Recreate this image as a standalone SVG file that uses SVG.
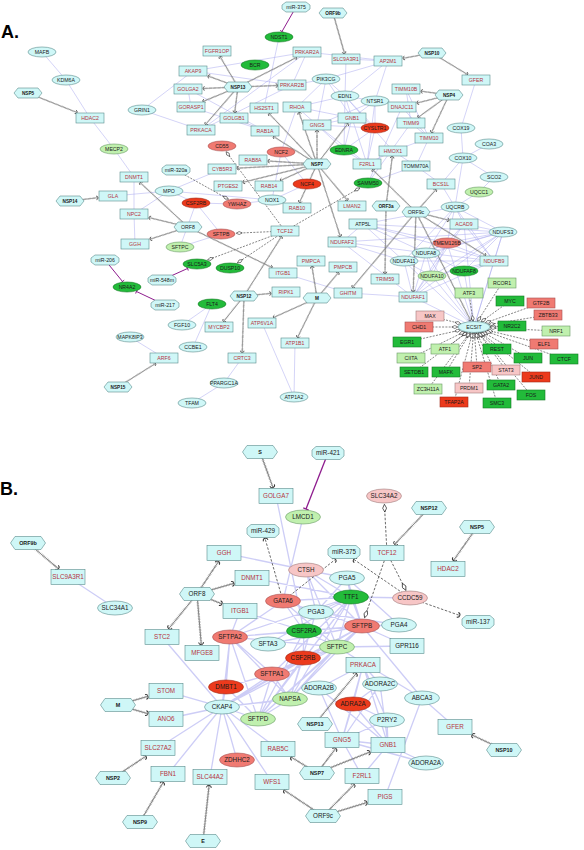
<svg xmlns="http://www.w3.org/2000/svg" xmlns:xlink="http://www.w3.org/1999/xlink" width="584" height="850" viewBox="0 0 584 850">
<style>
.c{fill:#cff7f7;stroke:#5a8c8c;stroke-width:.6}
.g{fill:#22bb3a;stroke:#177a27;stroke-width:.6}
.lg{fill:#c0f0ae;stroke:#6a9a66;stroke-width:.6}
.rd{fill:#ec3a1c;stroke:#a02a18;stroke-width:.6}
.sa{fill:#f07a72;stroke:#a85252;stroke-width:.6}
.pk{fill:#f7c6c6;stroke:#a07a7a;stroke-width:.6}
text{font-family:"Liberation Sans",Arial,sans-serif;text-anchor:middle;fill:#1a1a1a}
.a{font-size:5.2px}
.ah{font-size:4.7px;font-weight:bold}
.b{font-size:6.3px}
.bh{font-size:5.4px;font-weight:bold}
.rt{fill:#b5343e}
.lbl{font-size:18px;font-weight:bold;text-anchor:start;fill:#000}
.ppa{stroke:#a4a4ee;stroke-opacity:.6;stroke-width:.8;fill:none}
.ppb{stroke:#a4a4ee;stroke-opacity:.55;stroke-width:1.3;fill:none}
.vla{stroke:#4a4a4a;stroke-width:.5;fill:none;marker-end:url(#hk)}
.vta{stroke:#8a8a8a;stroke-width:1.8;stroke-dasharray:.4 .9;fill:none}
.vlb{stroke:#4a4a4a;stroke-width:.7;fill:none;marker-end:url(#hkb)}
.vtb{stroke:#8a8a8a;stroke-width:2.4;stroke-dasharray:.5 1.1;fill:none}
.da{stroke:#333;stroke-width:.6;stroke-dasharray:2 1.3;fill:none;marker-end:url(#dm)}
.db{stroke:#444;stroke-width:.8;stroke-dasharray:2.5 1.6;fill:none}
.dbd{marker-end:url(#dmb)}
.dbh{marker-end:url(#hkb)}
.mi{stroke:#8e1c8e;stroke-width:1;fill:none;marker-end:url(#tee)}
.mib{stroke:#8e1c8e;stroke-width:1.3;fill:none;marker-end:url(#teeb)}
</style>
<defs>
<marker id="hk" viewBox="-3 -3 6 6" refX="1.3" refY="0" markerWidth="6" markerHeight="6" markerUnits="userSpaceOnUse" orient="auto"><path d="M-0.5,-1.8A1.8,1.8 0 0 1 -0.5,1.8" fill="none" stroke="#333" stroke-width=".7"/></marker>
<marker id="hkb" viewBox="-3 -3 6 6" refX="1.3" refY="0" markerWidth="8" markerHeight="8" markerUnits="userSpaceOnUse" orient="auto"><path d="M-0.5,-1.8A1.8,1.8 0 0 1 -0.5,1.8" fill="none" stroke="#333" stroke-width=".7"/></marker>
<marker id="dm" viewBox="-4 -2 8 4" refX="3.2" refY="0" markerWidth="8" markerHeight="4" markerUnits="userSpaceOnUse" orient="auto"><path d="M-3,0L0,-1.5L3,0L0,1.5Z" fill="#fff" stroke="#111" stroke-width=".5"/></marker>
<marker id="dmb" viewBox="-4 -2 8 4" refX="3.2" refY="0" markerWidth="10.4" markerHeight="5.2" markerUnits="userSpaceOnUse" orient="auto"><path d="M-3,0L0,-1.5L3,0L0,1.5Z" fill="#fff" stroke="#111" stroke-width=".5"/></marker>
<marker id="tee" viewBox="-3 -3 6 6" refX="0" refY="0" markerWidth="6" markerHeight="6" markerUnits="userSpaceOnUse" orient="auto"><path d="M0,-2.2V2.2" stroke="#8e1c8e" stroke-width=".9"/></marker>
<marker id="teeb" viewBox="-3 -3 6 6" refX="0" refY="0" markerWidth="8" markerHeight="8" markerUnits="userSpaceOnUse" orient="auto"><path d="M0,-2.2V2.2" stroke="#8e1c8e" stroke-width=".9"/></marker>
<rect id="ra" x="-14" y="-5" width="28" height="10"/>
<ellipse id="ea" rx="14" ry="5"/>
<polygon id="ha" points="-14,0 -10,-5 10,-5 14,0 10,5 -10,5"/>
<polygon id="oa" points="-14,-2 -10,-5 10,-5 14,-2 14,2 10,5 -10,5 -14,2"/>
<rect id="rb" x="-17" y="-7.5" width="34" height="15"/>
<ellipse id="eb" rx="17.5" ry="7"/>
<polygon id="hb" points="-17.5,0 -13,-6.5 13,-6.5 17.5,0 13,6.5 -13,6.5"/>
<polygon id="ob" points="-16,-3 -12,-6.5 12,-6.5 16,-3 16,3 12,6.5 -12,6.5 -16,3"/>
</defs>
<rect width="584" height="850" fill="#fff"/>
<text class="lbl" x="1" y="38">A.</text>
<text class="lbl" x="0" y="495">B.</text>

<g id="connectors">
<path class="ppa" d="M42 52L66 80M66 80L90 118M90 118L114 149M114 149L134 177M142 110L193 71M142 110L201 130M113 196L169 191M169 191L134 214M134 214L135 244M134 177L134 214M169 191L222 169M169 191L272 200M169 191L196 203M196 203L221 234M196 203L180 247M180 247L221 234M196 203L237 204M237 204L272 200M272 200L307 184M272 200L281 152M281 152L307 184M188 89L191 107M188 89L265 131M191 107L265 131M234 118L265 131M307 52L292 85M307 52L201 130M292 85L201 130M193 71L307 52M193 71L292 85M307 52L388 61M346 59L345 96M346 59L388 61M279 37L264 108M326 79L352 118M326 79L317 125M326 79L297 107M326 79L345 96M326 79L292 85M326 79L388 61M345 96L375 101M345 96L344 150M345 96L352 118M345 96L297 107M345 96L393 151M345 96L388 61M345 96L375 128M375 101L352 118M375 101L317 125M375 101L388 61M375 101L375 128M375 101L367 164M352 118L317 125M352 118L375 128M352 118L344 150M352 118L367 164M317 125L375 128M317 125L344 150M317 125L367 164M297 107L317 125M297 107L352 118M375 128L344 150M344 150L367 164M375 128L367 164M297 107L281 152M393 151L429 138M393 151L416 166M393 151L367 164M411 123L429 138M406 89L411 123M406 89L429 138M402 107L429 138M429 138L416 166M416 166L368 183M411 123L368 183M402 107L368 183M476 80L461 128M461 128L463 158M463 158L489 144M463 158L494 177M463 158L455 207M463 158L441 184M494 177L479 192M455 207L479 192M455 207L441 184M455 207L503 232M455 207L464 224M455 207L426 253M455 207L404 261M455 207L363 224M455 207L494 261M455 207L447 243M441 184L416 166M363 224L426 253M363 224L404 261M363 224L503 232M363 224L342 242M363 224L494 261M363 224L447 243M342 242L404 261M342 242L426 253M342 242L413 297M342 242L503 232M503 232L426 253M503 232L404 261M503 232L494 261M503 232L447 243M503 232L464 224M503 232L474 327M503 232L413 297M503 232L432 276M503 232L464 271M426 253L404 261M426 253L494 261M426 253L447 243M426 253L474 327M426 253L413 297M426 253L432 276M426 253L464 271M404 261L494 261M404 261L413 297M404 261L474 327M404 261L432 276M404 261L447 243M494 261L447 243M494 261L474 327M494 261L464 224M494 261L432 276M494 261L464 271M494 261L413 297M447 243L474 327M447 243L464 224M447 243L413 297M447 243L432 276M464 224L474 327M464 224L413 297M474 327L413 297M474 327L432 276M474 327L464 271M413 297L432 276M348 293L413 297M283 273L348 293M182 325L212 304M212 304L193 347M242 358L224 383M224 383L192 403M262 323L294 397M295 343L294 397M130 337L164 358"/>
<path class="ppb" d="M276 496L304 631M303 517L283 601M224 553L306 570M68 577L115 608M162 637L222 707M252 578L351 597M240 611L304 631M240 611L230 637M230 637L351 597M230 637L362 626M230 637L337 647M230 637L272 674M230 637L304 631M230 637L258 719M230 637L222 707M230 637L226 687M230 637L283 601M230 637L290 699M272 674L351 597M272 674L362 626M272 674L337 647M272 674L258 719M272 674L222 707M272 674L226 687M272 674L303 658M272 674L290 699M362 626L351 597M362 626L337 647M362 626L258 719M362 626L304 631M362 626L303 658M362 626L290 699M362 626L422 698M362 626L407 646M362 626L399 625M362 626L316 612M362 626L306 570M362 626L222 707M362 626L283 601M362 626L268 644M362 626L347 578M337 647L351 597M337 647L258 719M337 647L304 631M337 647L303 658M337 647L290 699M337 647L422 698M337 647L222 707M337 647L283 601M337 647L407 646M337 647L306 570M351 597L283 601M351 597L290 699M351 597L258 719M351 597L268 644M351 597L347 578M351 597L410 598M351 597L306 570M351 597L316 612M304 631L303 658M304 631L258 719M304 631L283 601M303 658L258 719M303 658L222 707M303 658L290 699M258 719L222 707M258 719L290 699M258 719L226 687M222 707L226 687M222 707L158 748M222 707L168 774M222 707L210 777M222 707L237 760M222 707L278 749M222 707L272 782M222 707L166 719M222 707L166 691M222 707L290 699M316 612L347 578M316 612L399 625M316 612L306 570M316 612L283 601M316 612L290 699M399 625L347 578M347 578L306 570M422 698L385 797M422 698L455 727M363 665L353 704M363 665L319 688M363 665L380 684M363 665L388 745M363 665L342 740M363 665L387 720M353 704L388 745M353 704L342 740M353 704L387 720M353 704L380 684M319 688L388 745M319 688L342 740M380 684L388 745M380 684L342 740M387 720L388 745M387 720L342 740M388 745L342 740M388 745L362 776M342 740L362 776M388 745L426 763M342 740L426 763"/>
<path class="da" d="M285 231L236 233.2"/><path class="da" d="M285 231L360 187.8"/><path class="da" d="M285 231L207.5 260"/><path class="da" d="M285 231L237.3 263"/><path class="da" d="M285 231L226 151.5"/><path class="da" d="M176 170L228.5 199.3"/>
<path class="da" d="M502 283L477.4 321.6"/><path class="da" d="M469 293L473.2 321.5"/><path class="da" d="M510 301L480.9 322"/><path class="da" d="M541 303L485.1 323"/><path class="da" d="M548 315L488.5 324.6"/><path class="da" d="M430 316L461 323.8"/><path class="da" d="M419 327L458 327"/><path class="da" d="M512 326L490 326.6"/><path class="da" d="M556 331L489.8 327.8"/><path class="da" d="M407 342L460.6 330"/><path class="da" d="M544 344L487 330.2"/><path class="da" d="M445 349L467.4 332"/><path class="da" d="M497 349L479.4 332.2"/><path class="da" d="M411 358L464.9 331.5"/><path class="da" d="M528 358L482.2 331.7"/><path class="da" d="M564 359L485.1 331"/><path class="da" d="M477 367L474.4 332.5"/><path class="da" d="M506 370L478 332.3"/><path class="da" d="M414 372L467.3 332"/><path class="da" d="M446 372L470.6 332.4"/><path class="da" d="M536 377L480.3 332"/><path class="da" d="M501 385L476.5 332.4"/><path class="da" d="M469 388L473.5 332.5"/><path class="da" d="M428 389L470 332.3"/><path class="da" d="M531 395L478.4 332.3"/><path class="da" d="M454 402L472.5 332.5"/><path class="da" d="M497 403L475.7 332.5"/>
<path class="db dbd" d="M387 553L384.4 504"/><path class="db dbd" d="M387 553L406 590.5"/><path class="db dbd" d="M387 553L364.5 618"/><path class="db dbh" d="M283 601L335.5 559.3"/><path class="db dbh" d="M410 598L353.7 559.3"/><path class="db dbh" d="M283 601L265 538.3"/><path class="db dbh" d="M410 598L459.8 615.5"/>
<path class="mi" d="M296 7L282 31.5"/><path class="mi" d="M105 260L122.5 281.5"/><path class="mi" d="M165 305L136.5 291.5"/><path class="mi" d="M162 280L187.5 268.5"/>
<path class="mib" d="M328 453L306 509"/>
<g class="vla"><g id="vA">
<path d="M28 93L77 112.5"/>
<path d="M238 87L208 76"/><path d="M238 87L203 88.5"/><path d="M238 87L203 101.5"/><path d="M238 87L205.5 124.5"/><path d="M238 87L234.7 112.5"/><path d="M238 87L220 56.5"/><path d="M238 87L296.5 57.5"/><path d="M238 87L277.5 85.5"/>
<path d="M333 13L344.5 53.5"/>
<path d="M432 53L403 58.3"/><path d="M432 53L467.5 74.5"/>
<path d="M449 95L421 91.2"/><path d="M449 95L417 103"/><path d="M449 95L418 117.5"/><path d="M449 95L431.5 132.5"/>
<path d="M317 164L273.5 136.5"/><path d="M317 164L269 113.5"/><path d="M317 164L299 112.5"/><path d="M317 164L317 130.5"/><path d="M317 164L348 123.5"/><path d="M317 164L268 161"/><path d="M317 164L237 168.2"/><path d="M317 164L243 182.3"/><path d="M317 164L280.5 180.5"/><path d="M317 164L299.5 202.5"/><path d="M317 164L347.5 200.5"/><path d="M317 164L340.3 236.5"/>
<path d="M188 227L140 182.5"/><path d="M188 227L149 217.6"/><path d="M188 227L150 239.2"/><path d="M188 227L272 267.5"/>
<path d="M70 201L98 197.7"/>
<path d="M244 296L271 293.4"/><path d="M244 296L223.5 321.5"/><path d="M244 296L242.2 352.5"/><path d="M244 296L281.5 236.5"/>
<path d="M317 298L312 266.5"/><path d="M317 298L338.5 272.5"/><path d="M317 298L273.5 317.5"/><path d="M317 298L297.5 337.5"/>
<path d="M416 212L436 189.5"/><path d="M416 212L449 220.3"/><path d="M416 212L485.5 255.5"/><path d="M416 212L413.2 291.5"/><path d="M416 212L372.5 169.5"/><path d="M416 212L352.5 287.5"/><path d="M416 212L470.7 320.5"/>
<path d="M386 206L392.3 156.5"/><path d="M386 206L385 273.5"/>
<path d="M118 387L155.5 363.5"/>
</g></g>
<use href="#vA" xlink:href="#vA" class="vta"/>
<g class="vlb"><g id="vB">
<path d="M260 452L273 487.5"/>
<path d="M429 508L394.5 544.5"/>
<path d="M477 527L453.5 560.5"/>
<path d="M28 543L58.5 568.8"/>
<path d="M197 594L218.5 561.5"/><path d="M197 594L234 583.3"/><path d="M197 594L222 603.9"/><path d="M197 594L168.7 628.7"/><path d="M197 594L201.3 644.7"/>
<path d="M118 705L148 696.3"/><path d="M118 705L148 713.7"/>
<path d="M315 724L356.3 673.3"/>
<path d="M504 750L472 735"/>
<path d="M317 773L291 757"/><path d="M317 773L335.8 748.3"/><path d="M317 773L370 752"/>
<path d="M113 778L146 756.2"/>
<path d="M140 822L163.2 782.3"/>
<path d="M203 841L209.1 785.3"/>
<path d="M323 816L284 790"/><path d="M323 816L354.3 784.3"/><path d="M323 816L367 802.5"/>
</g></g>
<use href="#vB" xlink:href="#vB" class="vtb"/>
</g>

<g id="nodesA">
<g id="a-MAFB"><use href="#ea" x="42" y="52" class="c"/><text class="a" x="42" y="53.8">MAFB</text></g>
<g id="a-KDM6A"><use href="#ea" x="66" y="80" class="c"/><text class="a" x="66" y="81.8">KDM6A</text></g>
<g id="a-NSP5"><use href="#ha" x="28" y="93" class="c"/><text class="ah" x="28" y="94.7">NSP5</text></g>
<g id="a-HDAC2"><use href="#ra" x="90" y="118" class="c"/><text class="a rt" x="90" y="119.8">HDAC2</text></g>
<g id="a-GRIN1"><use href="#ea" x="142" y="110" class="c"/><text class="a" x="142" y="111.8">GRIN1</text></g>
<g id="a-AKAP9"><use href="#ra" x="193" y="71" class="c"/><text class="a rt" x="193" y="72.8">AKAP9</text></g>
<g id="a-GOLGA2"><use href="#ra" x="188" y="89" class="c"/><text class="a rt" x="188" y="90.8">GOLGA2</text></g>
<g id="a-GORASP1"><use href="#ra" x="191" y="107" class="c"/><text class="a rt" x="191" y="108.8">GORASP1</text></g>
<g id="a-PRKACA"><use href="#ra" x="201" y="130" class="c"/><text class="a rt" x="201" y="131.8">PRKACA</text></g>
<g id="a-miR-375"><use href="#oa" x="296" y="7" class="c"/><text class="a" x="296" y="8.8">miR-375</text></g>
<g id="a-ORF9b"><use href="#ha" x="333" y="13" class="c"/><text class="ah" x="333" y="14.7">ORF9b</text></g>
<g id="a-NDST1"><use href="#ea" x="279" y="37" class="g"/><text class="a" x="279" y="38.8">NDST1</text></g>
<g id="a-FGFR1OP"><use href="#ra" x="217" y="51" class="c"/><text class="a rt" x="217" y="52.8">FGFR1OP</text></g>
<g id="a-PRKAR2A"><use href="#ra" x="307" y="52" class="c"/><text class="a rt" x="307" y="53.8">PRKAR2A</text></g>
<g id="a-SLC9A3R1"><use href="#ra" x="346" y="59" class="c"/><text class="a rt" x="346" y="60.8">SLC9A3R1</text></g>
<g id="a-AP2M1"><use href="#ra" x="388" y="61" class="c"/><text class="a rt" x="388" y="62.8">AP2M1</text></g>
<g id="a-BCR"><use href="#ea" x="255" y="65" class="g"/><text class="a" x="255" y="66.8">BCR</text></g>
<g id="a-NSP13"><use href="#ha" x="238" y="87" class="c"/><text class="ah" x="238" y="88.7">NSP13</text></g>
<g id="a-PRKAR2B"><use href="#ra" x="292" y="85" class="c"/><text class="a rt" x="292" y="86.8">PRKAR2B</text></g>
<g id="a-PIK3CG"><use href="#ea" x="326" y="79" class="c"/><text class="a" x="326" y="80.8">PIK3CG</text></g>
<g id="a-EDN1"><use href="#ea" x="345" y="96" class="c"/><text class="a" x="345" y="97.8">EDN1</text></g>
<g id="a-NTSR1"><use href="#ea" x="375" y="101" class="c"/><text class="a" x="375" y="102.8">NTSR1</text></g>
<g id="a-HS2ST1"><use href="#ra" x="264" y="108" class="c"/><text class="a rt" x="264" y="109.8">HS2ST1</text></g>
<g id="a-RHOA"><use href="#ra" x="297" y="107" class="c"/><text class="a rt" x="297" y="108.8">RHOA</text></g>
<g id="a-GOLGB1"><use href="#ra" x="234" y="118" class="c"/><text class="a rt" x="234" y="119.8">GOLGB1</text></g>
<g id="a-GNG5"><use href="#ra" x="317" y="125" class="c"/><text class="a rt" x="317" y="126.8">GNG5</text></g>
<g id="a-GNB1"><use href="#ra" x="352" y="118" class="c"/><text class="a rt" x="352" y="119.8">GNB1</text></g>
<g id="a-CYSLTR1"><use href="#ea" x="375" y="128" class="rd"/><text class="a" x="375" y="129.8">CYSLTR1</text></g>
<g id="a-RAB1A"><use href="#ra" x="265" y="131" class="c"/><text class="a rt" x="265" y="132.8">RAB1A</text></g>
<g id="a-NSP10"><use href="#ha" x="432" y="53" class="c"/><text class="ah" x="432" y="54.7">NSP10</text></g>
<g id="a-GFER"><use href="#ra" x="476" y="80" class="c"/><text class="a rt" x="476" y="81.8">GFER</text></g>
<g id="a-TIMM10B"><use href="#ra" x="406" y="89" class="c"/><text class="a rt" x="406" y="90.8">TIMM10B</text></g>
<g id="a-NSP4"><use href="#ha" x="449" y="95" class="c"/><text class="ah" x="449" y="96.7">NSP4</text></g>
<g id="a-DNAJC11"><use href="#ra" x="402" y="107" class="c"/><text class="a rt" x="402" y="108.8">DNAJC11</text></g>
<g id="a-TIMM9"><use href="#ra" x="411" y="123" class="c"/><text class="a rt" x="411" y="124.8">TIMM9</text></g>
<g id="a-COX19"><use href="#ea" x="461" y="128" class="c"/><text class="a" x="461" y="129.8">COX19</text></g>
<g id="a-TIMM10"><use href="#ra" x="429" y="138" class="c"/><text class="a rt" x="429" y="139.8">TIMM10</text></g>
<g id="a-MECP2"><use href="#ea" x="114" y="149" class="lg"/><text class="a" x="114" y="150.8">MECP2</text></g>
<g id="a-miR-320a"><use href="#oa" x="176" y="170" class="c"/><text class="a" x="176" y="171.8">miR-320a</text></g>
<g id="a-DNMT1"><use href="#ra" x="134" y="177" class="c"/><text class="a rt" x="134" y="178.8">DNMT1</text></g>
<g id="a-MPO"><use href="#ea" x="169" y="191" class="c"/><text class="a" x="169" y="192.8">MPO</text></g>
<g id="a-GLA"><use href="#ra" x="113" y="196" class="c"/><text class="a rt" x="113" y="197.8">GLA</text></g>
<g id="a-NSP14"><use href="#ha" x="70" y="201" class="c"/><text class="ah" x="70" y="202.7">NSP14</text></g>
<g id="a-CSF2RB"><use href="#ea" x="196" y="203" class="rd"/><text class="a" x="196" y="204.8">CSF2RB</text></g>
<g id="a-NPC2"><use href="#ra" x="134" y="214" class="c"/><text class="a rt" x="134" y="215.8">NPC2</text></g>
<g id="a-ORF8"><use href="#ha" x="188" y="227" class="c"/><text class="a" x="188" y="228.8">ORF8</text></g>
<g id="a-GGH"><use href="#ra" x="135" y="244" class="c"/><text class="a rt" x="135" y="245.8">GGH</text></g>
<g id="a-SFTPC"><use href="#ea" x="180" y="247" class="lg"/><text class="a" x="180" y="248.8">SFTPC</text></g>
<g id="a-miR-206"><use href="#oa" x="105" y="260" class="c"/><text class="a" x="105" y="261.8">miR-206</text></g>
<g id="a-SLC5A3"><use href="#ea" x="197" y="264" class="g"/><text class="a" x="197" y="265.8">SLC5A3</text></g>
<g id="a-CD55"><use href="#ea" x="222" y="146" class="sa"/><text class="a" x="222" y="147.8">CD55</text></g>
<g id="a-NCF2"><use href="#ea" x="281" y="152" class="sa"/><text class="a" x="281" y="153.8">NCF2</text></g>
<g id="a-EDNRA"><use href="#ea" x="344" y="150" class="g"/><text class="a" x="344" y="151.8">EDNRA</text></g>
<g id="a-RAB8A"><use href="#ra" x="253" y="160" class="c"/><text class="a rt" x="253" y="161.8">RAB8A</text></g>
<g id="a-NSP7"><use href="#ha" x="317" y="164" class="c"/><text class="ah" x="317" y="165.7">NSP7</text></g>
<g id="a-F2RL1"><use href="#ra" x="367" y="164" class="c"/><text class="a rt" x="367" y="165.8">F2RL1</text></g>
<g id="a-HMOX1"><use href="#ra" x="393" y="151" class="c"/><text class="a rt" x="393" y="152.8">HMOX1</text></g>
<g id="a-CYB5R3"><use href="#ra" x="222" y="169" class="c"/><text class="a rt" x="222" y="170.8">CYB5R3</text></g>
<g id="a-PTGES2"><use href="#ra" x="228" y="186" class="c"/><text class="a rt" x="228" y="187.8">PTGES2</text></g>
<g id="a-RAB14"><use href="#ra" x="269" y="186" class="c"/><text class="a rt" x="269" y="187.8">RAB14</text></g>
<g id="a-NCF4"><use href="#ea" x="307" y="184" class="rd"/><text class="a" x="307" y="185.8">NCF4</text></g>
<g id="a-SAMM50"><use href="#ea" x="368" y="183" class="g"/><text class="a" x="368" y="184.8">SAMM50</text></g>
<g id="a-YWHAZ"><use href="#ea" x="237" y="204" class="sa"/><text class="a" x="237" y="205.8">YWHAZ</text></g>
<g id="a-NOX1"><use href="#ea" x="272" y="200" class="c"/><text class="a" x="272" y="201.8">NOX1</text></g>
<g id="a-RAB10"><use href="#ra" x="297" y="208" class="c"/><text class="a rt" x="297" y="209.8">RAB10</text></g>
<g id="a-LMAN2"><use href="#ra" x="352" y="206" class="c"/><text class="a rt" x="352" y="207.8">LMAN2</text></g>
<g id="a-ORF3a"><use href="#ha" x="386" y="206" class="c"/><text class="ah" x="386" y="207.7">ORF3a</text></g>
<g id="a-TCF12"><use href="#ra" x="285" y="231" class="c"/><text class="a rt" x="285" y="232.8">TCF12</text></g>
<g id="a-SFTPB"><use href="#ea" x="221" y="234" class="sa"/><text class="a" x="221" y="235.8">SFTPB</text></g>
<g id="a-ATP5L"><use href="#ra" x="363" y="224" class="c"/><text class="a" x="363" y="225.8">ATP5L</text></g>
<g id="a-NDUFAF2"><use href="#ra" x="342" y="242" class="c"/><text class="a rt" x="342" y="243.8">NDUFAF2</text></g>
<g id="a-PMPCA"><use href="#ra" x="311" y="261" class="c"/><text class="a rt" x="311" y="262.8">PMPCA</text></g>
<g id="a-PMPCB"><use href="#ra" x="343" y="267" class="c"/><text class="a rt" x="343" y="268.8">PMPCB</text></g>
<g id="a-DUSP10"><use href="#ea" x="230" y="268" class="g"/><text class="a" x="230" y="269.8">DUSP10</text></g>
<g id="a-COA3"><use href="#ea" x="489" y="144" class="c"/><text class="a" x="489" y="145.8">COA3</text></g>
<g id="a-COX10"><use href="#ea" x="463" y="158" class="c"/><text class="a" x="463" y="159.8">COX10</text></g>
<g id="a-TOMM70A"><use href="#ra" x="416" y="166" class="c"/><text class="a" x="416" y="167.8">TOMM70A</text></g>
<g id="a-SCO2"><use href="#ea" x="494" y="177" class="c"/><text class="a" x="494" y="178.8">SCO2</text></g>
<g id="a-BCS1L"><use href="#ra" x="441" y="184" class="c"/><text class="a rt" x="441" y="185.8">BCS1L</text></g>
<g id="a-UQCC1"><use href="#ea" x="479" y="192" class="lg"/><text class="a" x="479" y="193.8">UQCC1</text></g>
<g id="a-UQCRB"><use href="#ea" x="455" y="207" class="c"/><text class="a" x="455" y="208.8">UQCRB</text></g>
<g id="a-ORF9c"><use href="#ha" x="416" y="212" class="c"/><text class="a" x="416" y="213.8">ORF9c</text></g>
<g id="a-ACAD9"><use href="#ra" x="464" y="224" class="c"/><text class="a rt" x="464" y="225.8">ACAD9</text></g>
<g id="a-NDUFS3"><use href="#ea" x="503" y="232" class="c"/><text class="a" x="503" y="233.8">NDUFS3</text></g>
<g id="a-TMEM126B"><use href="#ea" x="447" y="243" class="sa"/><text class="a" x="447" y="244.8">TMEM126B</text></g>
<g id="a-NDUFA8"><use href="#ea" x="426" y="253" class="c"/><text class="a" x="426" y="254.8">NDUFA8</text></g>
<g id="a-NDUFA11"><use href="#ea" x="404" y="261" class="c"/><text class="a" x="404" y="262.8">NDUFA11</text></g>
<g id="a-NDUFB9"><use href="#ra" x="494" y="261" class="c"/><text class="a rt" x="494" y="262.8">NDUFB9</text></g>
<g id="a-NDUFAF8"><use href="#ea" x="464" y="271" class="g"/><text class="a" x="464" y="272.8">NDUFAF8</text></g>
<g id="a-NR4A2"><use href="#ea" x="127" y="287" class="g"/><text class="a" x="127" y="288.8">NR4A2</text></g>
<g id="a-miR-548m"><use href="#oa" x="162" y="280" class="c"/><text class="a" x="162" y="281.8">miR-548m</text></g>
<g id="a-miR-217"><use href="#oa" x="165" y="305" class="c"/><text class="a" x="165" y="306.8">miR-217</text></g>
<g id="a-FGF10"><use href="#ea" x="182" y="325" class="c"/><text class="a" x="182" y="326.8">FGF10</text></g>
<g id="a-MAPK8IP3"><use href="#ea" x="130" y="337" class="c"/><text class="a" x="130" y="338.8">MAPK8IP3</text></g>
<g id="a-ARF6"><use href="#ra" x="164" y="358" class="c"/><text class="a rt" x="164" y="359.8">ARF6</text></g>
<g id="a-NSP15"><use href="#ha" x="118" y="387" class="c"/><text class="ah" x="118" y="388.7">NSP15</text></g>
<g id="a-CCBE1"><use href="#ea" x="193" y="347" class="c"/><text class="a" x="193" y="348.8">CCBE1</text></g>
<g id="a-TFAM"><use href="#ea" x="192" y="403" class="c"/><text class="a" x="192" y="404.8">TFAM</text></g>
<g id="a-ITGB1"><use href="#ra" x="283" y="273" class="c"/><text class="a rt" x="283" y="274.8">ITGB1</text></g>
<g id="a-NSP12"><use href="#ha" x="244" y="296" class="c"/><text class="ah" x="244" y="297.7">NSP12</text></g>
<g id="a-RIPK1"><use href="#ra" x="286" y="292" class="c"/><text class="a rt" x="286" y="293.8">RIPK1</text></g>
<g id="a-M"><use href="#ha" x="317" y="298" class="c"/><text class="ah" x="317" y="299.7">M</text></g>
<g id="a-GHITM"><use href="#ra" x="348" y="293" class="c"/><text class="a rt" x="348" y="294.8">GHITM</text></g>
<g id="a-FLT4"><use href="#ea" x="212" y="304" class="g"/><text class="a" x="212" y="305.8">FLT4</text></g>
<g id="a-MYCBP2"><use href="#ra" x="219" y="327" class="c"/><text class="a rt" x="219" y="328.8">MYCBP2</text></g>
<g id="a-ATP6V1A"><use href="#ra" x="262" y="323" class="c"/><text class="a rt" x="262" y="324.8">ATP6V1A</text></g>
<g id="a-ATP1B1"><use href="#ra" x="295" y="343" class="c"/><text class="a rt" x="295" y="344.8">ATP1B1</text></g>
<g id="a-CRTC3"><use href="#ra" x="242" y="358" class="c"/><text class="a rt" x="242" y="359.8">CRTC3</text></g>
<g id="a-PPARGC1A"><use href="#ea" x="224" y="383" class="c"/><text class="a" x="224" y="384.8">PPARGC1A</text></g>
<g id="a-ATP1A2"><use href="#ea" x="294" y="397" class="c"/><text class="a" x="294" y="398.8">ATP1A2</text></g>
<g id="a-TRIM59"><use href="#ra" x="385" y="279" class="c"/><text class="a rt" x="385" y="280.8">TRIM59</text></g>
<g id="a-NDUFA10"><use href="#ea" x="432" y="276" class="lg"/><text class="a" x="432" y="277.8">NDUFA10</text></g>
<g id="a-NDUFAF1"><use href="#ra" x="413" y="297" class="c"/><text class="a rt" x="413" y="298.8">NDUFAF1</text></g>
<g id="a-RCOR1"><use href="#ra" x="502" y="283" class="lg"/><text class="a" x="502" y="284.8">RCOR1</text></g>
<g id="a-ATF3"><use href="#ra" x="469" y="293" class="lg"/><text class="a" x="469" y="294.8">ATF3</text></g>
<g id="a-MYC"><use href="#ra" x="510" y="301" class="g"/><text class="a" x="510" y="302.8">MYC</text></g>
<g id="a-GTF2B"><use href="#ra" x="541" y="303" class="sa"/><text class="a" x="541" y="304.8">GTF2B</text></g>
<g id="a-ZBTB33"><use href="#ra" x="548" y="315" class="sa"/><text class="a" x="548" y="316.8">ZBTB33</text></g>
<g id="a-MAX"><use href="#ra" x="430" y="316" class="pk"/><text class="a" x="430" y="317.8">MAX</text></g>
<g id="a-CHD1"><use href="#ra" x="419" y="327" class="sa"/><text class="a" x="419" y="328.8">CHD1</text></g>
<g id="a-ECSIT"><ellipse cx="474" cy="327" rx="16" ry="5.5" class="c"/><text class="a" x="474" y="328.8">ECSIT</text></g>
<g id="a-NR2C2"><use href="#ra" x="512" y="326" class="g"/><text class="a" x="512" y="327.8">NR2C2</text></g>
<g id="a-NRF1"><use href="#ra" x="556" y="331" class="lg"/><text class="a" x="556" y="332.8">NRF1</text></g>
<g id="a-EGR1"><use href="#ra" x="407" y="342" class="g"/><text class="a" x="407" y="343.8">EGR1</text></g>
<g id="a-ELF1"><use href="#ra" x="544" y="344" class="sa"/><text class="a" x="544" y="345.8">ELF1</text></g>
<g id="a-ATF1"><use href="#ra" x="445" y="349" class="lg"/><text class="a" x="445" y="350.8">ATF1</text></g>
<g id="a-REST"><use href="#ra" x="497" y="349" class="g"/><text class="a" x="497" y="350.8">REST</text></g>
<g id="a-CIITA"><use href="#ra" x="411" y="358" class="lg"/><text class="a" x="411" y="359.8">CIITA</text></g>
<g id="a-JUN"><use href="#ra" x="528" y="358" class="g"/><text class="a" x="528" y="359.8">JUN</text></g>
<g id="a-CTCF"><use href="#ra" x="564" y="359" class="g"/><text class="a" x="564" y="360.8">CTCF</text></g>
<g id="a-SP2"><use href="#ra" x="477" y="367" class="sa"/><text class="a" x="477" y="368.8">SP2</text></g>
<g id="a-STAT3"><use href="#ra" x="506" y="370" class="pk"/><text class="a" x="506" y="371.8">STAT3</text></g>
<g id="a-SETDB1"><use href="#ra" x="414" y="372" class="g"/><text class="a" x="414" y="373.8">SETDB1</text></g>
<g id="a-MAFK"><use href="#ra" x="446" y="372" class="g"/><text class="a" x="446" y="373.8">MAFK</text></g>
<g id="a-JUND"><use href="#ra" x="536" y="377" class="rd"/><text class="a" x="536" y="378.8">JUND</text></g>
<g id="a-GATA2"><use href="#ra" x="501" y="385" class="g"/><text class="a" x="501" y="386.8">GATA2</text></g>
<g id="a-PRDM1"><use href="#ra" x="469" y="388" class="pk"/><text class="a" x="469" y="389.8">PRDM1</text></g>
<g id="a-ZC3H11A"><use href="#ra" x="428" y="389" class="lg"/><text class="a" x="428" y="390.8">ZC3H11A</text></g>
<g id="a-FOS"><use href="#ra" x="531" y="395" class="g"/><text class="a" x="531" y="396.8">FOS</text></g>
<g id="a-TFAP2A"><use href="#ra" x="454" y="402" class="rd"/><text class="a" x="454" y="403.8">TFAP2A</text></g>
<g id="a-SMC3"><use href="#ra" x="497" y="403" class="g"/><text class="a" x="497" y="404.8">SMC3</text></g>
</g>

<g id="nodesB">
<g id="b-S"><use href="#hb" x="260" y="452" class="c"/><text class="bh" x="260" y="454">S</text></g>
<g id="b-miR-421"><use href="#ob" x="328" y="453" class="c"/><text class="b" x="328" y="455.2">miR-421</text></g>
<g id="b-GOLGA7"><use href="#rb" x="276" y="496" class="c"/><text class="b rt" x="276" y="498.2">GOLGA7</text></g>
<g id="b-LMCD1"><use href="#eb" x="303" y="517" class="lg"/><text class="b" x="303" y="519.2">LMCD1</text></g>
<g id="b-SLC34A2"><use href="#eb" x="384" y="496" class="pk"/><text class="b" x="384" y="498.2">SLC34A2</text></g>
<g id="b-NSP12"><use href="#hb" x="429" y="508" class="c"/><text class="bh" x="429" y="510">NSP12</text></g>
<g id="b-NSP5"><use href="#hb" x="477" y="527" class="c"/><text class="bh" x="477" y="529">NSP5</text></g>
<g id="b-miR-429"><use href="#ob" x="263" y="531" class="c"/><text class="b" x="263" y="533.2">miR-429</text></g>
<g id="b-ORF9b"><use href="#hb" x="28" y="543" class="c"/><text class="bh" x="28" y="545">ORF9b</text></g>
<g id="b-GGH"><use href="#rb" x="224" y="553" class="c"/><text class="b rt" x="224" y="555.2">GGH</text></g>
<g id="b-miR-375"><use href="#ob" x="344" y="552" class="c"/><text class="b" x="344" y="554.2">miR-375</text></g>
<g id="b-TCF12"><use href="#rb" x="387" y="553" class="c"/><text class="b rt" x="387" y="555.2">TCF12</text></g>
<g id="b-HDAC2"><use href="#rb" x="448" y="569" class="c"/><text class="b rt" x="448" y="571.2">HDAC2</text></g>
<g id="b-SLC9A3R1"><use href="#rb" x="68" y="577" class="c"/><text class="b rt" x="68" y="579.2">SLC9A3R1</text></g>
<g id="b-DNMT1"><use href="#rb" x="252" y="578" class="c"/><text class="b rt" x="252" y="580.2">DNMT1</text></g>
<g id="b-CTSH"><use href="#eb" x="306" y="570" class="pk"/><text class="b" x="306" y="572.2">CTSH</text></g>
<g id="b-PGA5"><use href="#eb" x="347" y="578" class="c"/><text class="b" x="347" y="580.2">PGA5</text></g>
<g id="b-ORF8"><use href="#hb" x="197" y="594" class="c"/><text class="b" x="197" y="596.2">ORF8</text></g>
<g id="b-GATA6"><use href="#eb" x="283" y="601" class="sa"/><text class="b" x="283" y="603.2">GATA6</text></g>
<g id="b-TTF1"><use href="#eb" x="351" y="597" class="g"/><text class="b" x="351" y="599.2">TTF1</text></g>
<g id="b-CCDC59"><use href="#eb" x="410" y="598" class="pk"/><text class="b" x="410" y="600.2">CCDC59</text></g>
<g id="b-SLC34A1"><use href="#eb" x="115" y="608" class="c"/><text class="b" x="115" y="610.2">SLC34A1</text></g>
<g id="b-ITGB1"><use href="#rb" x="240" y="611" class="c"/><text class="b rt" x="240" y="613.2">ITGB1</text></g>
<g id="b-PGA3"><use href="#eb" x="316" y="612" class="c"/><text class="b" x="316" y="614.2">PGA3</text></g>
<g id="b-miR-137"><use href="#ob" x="478" y="622" class="c"/><text class="b" x="478" y="624.2">miR-137</text></g>
<g id="b-SFTPB"><use href="#eb" x="362" y="626" class="sa"/><text class="b" x="362" y="628.2">SFTPB</text></g>
<g id="b-PGA4"><use href="#eb" x="399" y="625" class="c"/><text class="b" x="399" y="627.2">PGA4</text></g>
<g id="b-STC2"><use href="#rb" x="162" y="637" class="c"/><text class="b rt" x="162" y="639.2">STC2</text></g>
<g id="b-CSF2RA"><use href="#eb" x="304" y="631" class="g"/><text class="b" x="304" y="633.2">CSF2RA</text></g>
<g id="b-SFTPA2"><use href="#eb" x="230" y="637" class="sa"/><text class="b" x="230" y="639.2">SFTPA2</text></g>
<g id="b-SFTA3"><use href="#eb" x="268" y="644" class="c"/><text class="b" x="268" y="646.2">SFTA3</text></g>
<g id="b-SFTPC"><use href="#eb" x="337" y="647" class="lg"/><text class="b" x="337" y="649.2">SFTPC</text></g>
<g id="b-GPR116"><use href="#rb" x="407" y="646" class="c"/><text class="b" x="407" y="648.2">GPR116</text></g>
<g id="b-MFGE8"><use href="#rb" x="202" y="653" class="c"/><text class="b rt" x="202" y="655.2">MFGE8</text></g>
<g id="b-CSF2RB"><use href="#eb" x="303" y="658" class="rd"/><text class="b" x="303" y="660.2">CSF2RB</text></g>
<g id="b-PRKACA"><use href="#rb" x="363" y="665" class="c"/><text class="b rt" x="363" y="667.2">PRKACA</text></g>
<g id="b-SFTPA1"><use href="#eb" x="272" y="674" class="sa"/><text class="b" x="272" y="676.2">SFTPA1</text></g>
<g id="b-ADORA2C"><use href="#eb" x="380" y="684" class="c"/><text class="b" x="380" y="686.2">ADORA2C</text></g>
<g id="b-ABCA3"><use href="#eb" x="422" y="698" class="c"/><text class="b" x="422" y="700.2">ABCA3</text></g>
<g id="b-DMBT1"><use href="#eb" x="226" y="687" class="rd"/><text class="b" x="226" y="689.2">DMBT1</text></g>
<g id="b-ADORA2B"><use href="#eb" x="319" y="688" class="c"/><text class="b" x="319" y="690.2">ADORA2B</text></g>
<g id="b-STOM"><use href="#rb" x="166" y="691" class="c"/><text class="b rt" x="166" y="693.2">STOM</text></g>
<g id="b-NAPSA"><use href="#eb" x="290" y="699" class="lg"/><text class="b" x="290" y="701.2">NAPSA</text></g>
<g id="b-ADRA2A"><use href="#eb" x="353" y="704" class="rd"/><text class="b" x="353" y="706.2">ADRA2A</text></g>
<g id="b-M"><use href="#hb" x="118" y="705" class="c"/><text class="bh" x="118" y="707">M</text></g>
<g id="b-CKAP4"><use href="#eb" x="222" y="707" class="c"/><text class="b" x="222" y="709.2">CKAP4</text></g>
<g id="b-ANO6"><use href="#rb" x="166" y="719" class="c"/><text class="b rt" x="166" y="721.2">ANO6</text></g>
<g id="b-SFTPD"><use href="#eb" x="258" y="719" class="lg"/><text class="b" x="258" y="721.2">SFTPD</text></g>
<g id="b-NSP13"><use href="#hb" x="315" y="724" class="c"/><text class="bh" x="315" y="726">NSP13</text></g>
<g id="b-P2RY2"><use href="#eb" x="387" y="720" class="c"/><text class="b" x="387" y="722.2">P2RY2</text></g>
<g id="b-GFER"><use href="#rb" x="455" y="727" class="c"/><text class="b rt" x="455" y="729.2">GFER</text></g>
<g id="b-GNG5"><use href="#rb" x="342" y="740" class="c"/><text class="b rt" x="342" y="742.2">GNG5</text></g>
<g id="b-SLC27A2"><use href="#rb" x="158" y="748" class="c"/><text class="b rt" x="158" y="750.2">SLC27A2</text></g>
<g id="b-RAB5C"><use href="#rb" x="278" y="749" class="c"/><text class="b rt" x="278" y="751.2">RAB5C</text></g>
<g id="b-GNB1"><use href="#rb" x="388" y="745" class="c"/><text class="b rt" x="388" y="747.2">GNB1</text></g>
<g id="b-NSP10"><use href="#hb" x="504" y="750" class="c"/><text class="bh" x="504" y="752">NSP10</text></g>
<g id="b-ADORA2A"><use href="#eb" x="426" y="763" class="c"/><text class="b" x="426" y="765.2">ADORA2A</text></g>
<g id="b-ZDHHC2"><use href="#eb" x="237" y="760" class="sa"/><text class="b" x="237" y="762.2">ZDHHC2</text></g>
<g id="b-NSP7"><use href="#hb" x="317" y="773" class="c"/><text class="bh" x="317" y="775">NSP7</text></g>
<g id="b-NSP2"><use href="#hb" x="113" y="778" class="c"/><text class="bh" x="113" y="780">NSP2</text></g>
<g id="b-FBN1"><use href="#rb" x="168" y="774" class="c"/><text class="b rt" x="168" y="776.2">FBN1</text></g>
<g id="b-SLC44A2"><use href="#rb" x="210" y="777" class="c"/><text class="b rt" x="210" y="779.2">SLC44A2</text></g>
<g id="b-WFS1"><use href="#rb" x="272" y="782" class="c"/><text class="b rt" x="272" y="784.2">WFS1</text></g>
<g id="b-F2RL1"><use href="#rb" x="362" y="776" class="c"/><text class="b rt" x="362" y="778.2">F2RL1</text></g>
<g id="b-PIGS"><use href="#rb" x="385" y="797" class="c"/><text class="b rt" x="385" y="799.2">PIGS</text></g>
<g id="b-ORF9c"><use href="#hb" x="323" y="816" class="c"/><text class="b" x="323" y="818.2">ORF9c</text></g>
<g id="b-NSP9"><use href="#hb" x="140" y="822" class="c"/><text class="bh" x="140" y="824">NSP9</text></g>
<g id="b-E"><use href="#hb" x="203" y="841" class="c"/><text class="bh" x="203" y="843">E</text></g>
</g>
</svg>
